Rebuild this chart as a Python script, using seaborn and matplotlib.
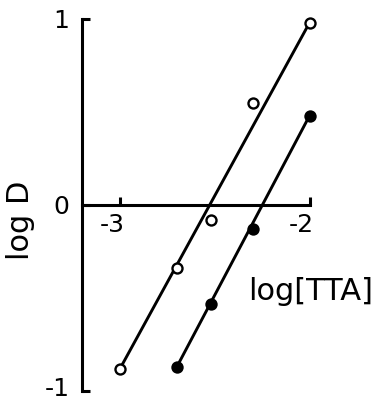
import matplotlib
matplotlib.use('Agg')
import matplotlib.pyplot as plt
import matplotlib.transforms as mtransforms
import seaborn as sns

# log D against log[TTA]; open and filled circles
open_x = [-3.0, -2.70, -2.52, -2.30, -2.0]
open_y = [-0.88, -0.34, -0.08, 0.55, 0.98]
filled_x = [-2.70, -2.52, -2.30, -2.0]
filled_y = [-0.87, -0.53, -0.13, 0.48]

x_ticks = [-3, -2]
x_tick_labels = ['-3', '-2']
y_ticks = [-1, 0, 1]
y_tick_labels = ['-1', '0', '1']

sns.set_style('ticks')
plt.rcParams.update({
    'font.family': ['DejaVu Sans'],
    'axes.unicode_minus': False,
    'text.color': 'black',
    'axes.labelcolor': 'black',
    'xtick.color': 'black',
    'ytick.color': 'black',
})

fig = plt.figure(figsize=(3.76, 4.03), dpi=100)
ax = fig.add_axes([82.1 / 376, 12 / 403, 240.7 / 376, 372 / 403])

# straight lines through the end points of each series
sns.lineplot(x=[open_x[0], open_x[-1]], y=[open_y[0], open_y[-1]],
             color='black', linewidth=2.1, ax=ax, zorder=2)
sns.lineplot(x=[filled_x[0], filled_x[-1]], y=[filled_y[0], filled_y[-1]],
             color='black', linewidth=2.1, ax=ax, zorder=2)

sns.scatterplot(x=open_x, y=open_y, marker='o', s=52, color='white',
                edgecolor='black', linewidth=1.7, ax=ax, zorder=3, clip_on=False)
sns.scatterplot(x=filled_x, y=filled_y, marker='o', s=52, color='black',
                edgecolor='black', linewidth=1.7, ax=ax, zorder=3, clip_on=False)

ax.set_xlim(-3.2, -1.93)
ax.set_ylim(-1, 1)

for side in ['top', 'right']:
    ax.spines[side].set_visible(False)
ax.spines['bottom'].set_position(('data', 0))
ax.spines['bottom'].set_bounds(-3.2, -2)
ax.spines['left'].set_bounds(-1, 1)
for side in ['left', 'bottom']:
    ax.spines[side].set_linewidth(2.2)
    ax.spines[side].set_color('black')

ax.set_xticks(x_ticks)
ax.set_xticklabels(x_tick_labels)
ax.set_yticks(y_ticks)
ax.set_yticklabels(y_tick_labels)
ax.tick_params(axis='both', direction='in', length=6, width=2.2,
               labelsize=18)
ax.tick_params(axis='x', pad=6)
ax.tick_params(axis='y', pad=9)

shift = mtransforms.ScaledTranslation(-8 / 100, 0, fig.dpi_scale_trans)
for lab in ax.get_xticklabels():
    lab.set_transform(lab.get_transform() + shift)

# keep the lowest y label inside the figure edge
lift = mtransforms.ScaledTranslation(0, 5 / 100, fig.dpi_scale_trans)
low = ax.get_yticklabels()[0]
low.set_transform(low.get_transform() + lift)

ax.set_xlabel('log[TTA]', fontsize=22)
ax.xaxis.label.set_va('baseline')
ax.xaxis.set_label_coords(0.951, 0.245)

ax.set_ylabel('log D', fontsize=22)
ax.yaxis.set_label_coords(-0.196, 0.46)

fig.savefig('out.png', dpi=100)
plt.close(fig)
